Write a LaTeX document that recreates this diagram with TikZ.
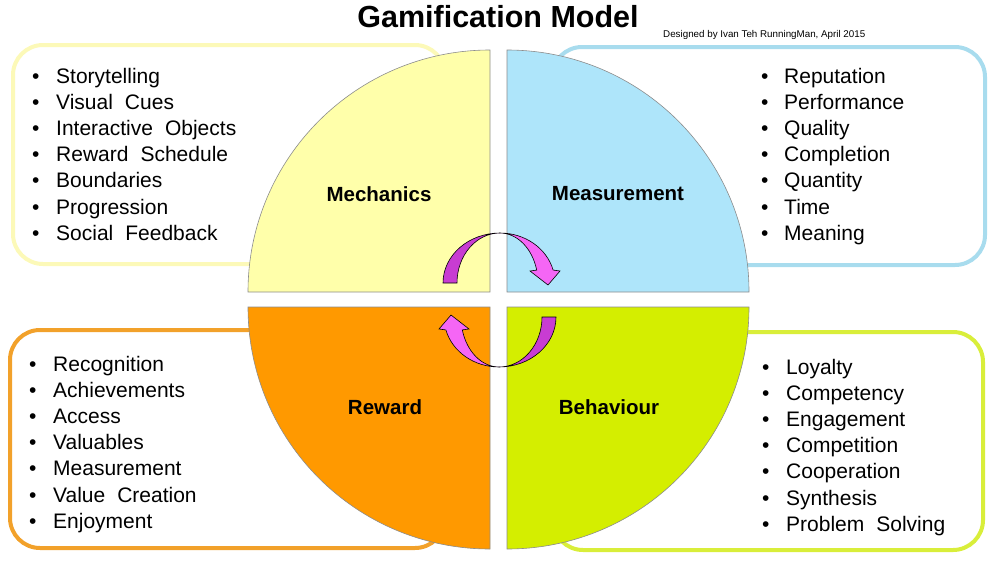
\documentclass[tikz,border=0pt]{standalone}
\usepackage{fontspec}
\setmainfont{Liberation Sans}
\usetikzlibrary{positioning}
\definecolor{mechfill}{HTML}{FFFFAA}
\definecolor{measfill}{HTML}{AEE5FA}
\definecolor{rewfill}{HTML}{FF9900}
\definecolor{behfill}{HTML}{D4EE00}
\definecolor{mechline}{HTML}{FCF9B8}
\definecolor{measline}{HTML}{A8DCEE}
\definecolor{rewline}{HTML}{F2A12A}
\definecolor{behline}{HTML}{D9EE3A}
\definecolor{arrlight}{HTML}{F566F5}
\definecolor{arrdark}{HTML}{C83CD2}
\newcommand\listfont{\fontsize{21}{26}\selectfont\spaceskip=12pt plus 2pt\relax}

\begin{document}
\begin{tikzpicture}[x=1pt,y=-1pt,
  listframe/.style={line width=4pt,rounded corners=30pt,fill=white},
  quad/.style={draw=black!45,line width=0.6pt},
  quadlabel/.style={font=\fontsize{20.5}{24}\selectfont\bfseries},
  listitem/.style={anchor=base west,inner sep=0pt,font=\listfont},
  cyc/.style={draw=black,line width=0.6pt}]
\useasboundingbox (0,0) rectangle (1000,562);

% title
\node[font=\fontsize{30.5}{36}\selectfont\bfseries] (title) at (498,17) {Gamification Model};
\node[anchor=base west,inner sep=0pt,font=\fontsize{9.8}{12}\selectfont] (credit) at (663,37) {Designed by Ivan Teh RunningMan, April 2015};

% list frames behind the circle
\draw[listframe,draw=mechline] (13,45) rectangle (445,264);
\draw[listframe,draw=measline] (552,47) rectangle (985,265);
\draw[listframe,draw=rewline] (10,330) rectangle (445,548);
\draw[listframe,draw=behline] (553,332) rectangle (983,550);

% four quarters
\filldraw[quad,fill=mechfill] (490,292) -- (248,292) arc[start angle=180,end angle=270,radius=242] -- cycle;
\filldraw[quad,fill=measfill] (507,292) -- (507,50) arc[start angle=270,end angle=360,radius=242] -- cycle;
\filldraw[quad,fill=rewfill] (490,307) -- (490,549) arc[start angle=90,end angle=180,radius=242] -- cycle;
\filldraw[quad,fill=behfill] (507,307) -- (749,307) arc[start angle=0,end angle=90,radius=242] -- cycle;

\node[quadlabel] (mech) at (379,194) {Mechanics};
\node[quadlabel] (meas) at (618,194) {Measurement};
\node[quadlabel] (rew) at (385,407) {Reward};
\node[quadlabel] (beh) at (609,407) {Behaviour};

% lists
\foreach \t [count=\i from 0] in {Storytelling,Visual Cues,Interactive Objects,Reward Schedule,Boundaries,Progression,Social Feedback}
  \node[listitem] (mech\i) at (32,{83+26.2*\i}) {\makebox[24pt][l]{\textbullet}\t};
\foreach \t [count=\i from 0] in {Reputation,Performance,Quality,Completion,Quantity,Time,Meaning}
  \node[listitem] (meas\i) at (761,{83+26.2*\i}) {\makebox[23pt][l]{\textbullet}\t};
\foreach \t [count=\i from 0] in {Recognition,Achievements,Access,Valuables,Measurement,Value Creation,Enjoyment}
  \node[listitem] (rew\i) at (29,{371+26.2*\i}) {\makebox[24pt][l]{\textbullet}\t};
\foreach \t [count=\i from 0] in {Loyalty,Competency,Engagement,Competition,Cooperation,Synthesis,Problem Solving}
  \node[listitem] (beh\i) at (762,{374+26.2*\i}) {\makebox[24pt][l]{\textbullet}\t};

% cycle arrows
\foreach \r in {0,180}{
  \begin{scope}[rotate around={\r:(499.5,300)}]
    \filldraw[cyc,fill=arrdark] (443,283) arc[start angle=180,end angle=270,x radius=57,y radius=50]
      arc[start angle=270,end angle=180,x radius=43,y radius=50] -- cycle;
    \filldraw[cyc,fill=arrlight] (500,233) arc[start angle=270,end angle=345,x radius=55,y radius=50]
      -- (560,271) -- (548,285) -- (530,271) -- (536.7,270.1)
      arc[start angle=345,end angle=270,x radius=38,y radius=50] -- cycle;
  \end{scope}
}
\end{tikzpicture}
\end{document}
